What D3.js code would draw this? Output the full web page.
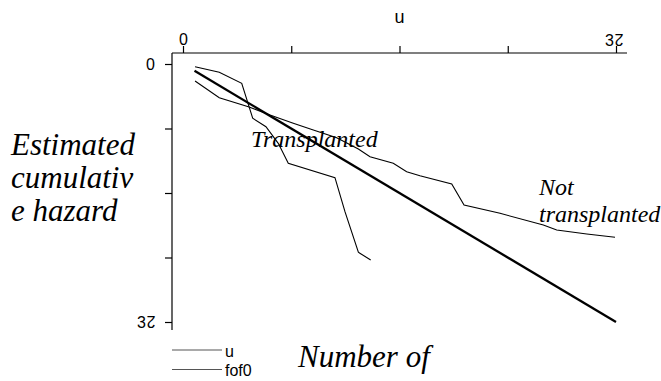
<!DOCTYPE html>
<html><head><meta charset="utf-8">
<script src="https://cdn.jsdelivr.net/npm/d3@7"></script>
<style>body{margin:0;background:#fff}svg{display:block}</style></head>
<body>
<svg id="c" width="661" height="381"></svg>
<script>
// ---- data ----
const xDomain = [0, 32];
const yDomain = [0, 32];
const xTicks = [0, 8, 16, 24, 32];
const yTicks = [0, 8, 16, 24, 32];
const startLabel = "0";
const endLabelA = "3";
const endLabelB = "2";          // drawn upside down, as in the reference
const topTitle = "u";
const legendLabels = ["u", "fof0"];

const refX = [0.85, 32];
const refY = [0.85, 32];

const transX = [0.89, 2.68, 4.34, 5.15, 6.13, 7.04, 7.78, 11.23, 11.97, 12.96, 13.10, 13.87];
const transY = [0.33, 1.03, 2.39, 6.73, 7.78, 9.84, 12.32, 14.10, 18.32, 23.35, 23.50, 24.31];

const notX = [0.89, 2.68, 4.83, 6.43, 8.15, 9.63, 11.36, 12.96, 13.82, 15.54, 16.53, 17.51, 19.86, 20.77, 23.43, 26.63, 27.62, 29.84, 31.93];
const notY = [2.11, 4.18, 5.30, 6.33, 7.35, 8.19, 9.14, 10.54, 11.50, 12.32, 13.36, 13.85, 14.88, 17.49, 18.52, 19.97, 20.59, 21.08, 21.49];

// ---- drawing ----
const svg = d3.select("#c");
const x = d3.scaleLinear().domain(xDomain).range([183, 616]);
const y = d3.scaleLinear().domain(yDomain).range([64, 322]);
const sans = "'Liberation Sans', Arial, sans-serif";
const serif = "'Liberation Serif', 'Times New Roman', serif";

// axis lines
svg.append("line").attr("x1", 172).attr("x2", 627).attr("y1", 53).attr("y2", 53)
  .attr("stroke", "#000").attr("stroke-width", 1.2);
svg.append("line").attr("x1", 172).attr("x2", 172).attr("y1", 53).attr("y2", 330)
  .attr("stroke", "#000").attr("stroke-width", 1.2);

const fmtX = d => d === xDomain[0] ? startLabel : "";
const gx = svg.append("g").attr("transform", "translate(0,53)")
  .call(d3.axisTop(x).tickValues(xTicks).tickSize(7).tickSizeOuter(0).tickPadding(1).tickFormat(fmtX));
const gy = svg.append("g").attr("transform", "translate(172,0)")
  .call(d3.axisLeft(y).tickValues(yTicks).tickSize(7).tickSizeOuter(0).tickPadding(10).tickFormat(fmtX));
[gx, gy].forEach(g => {
  g.select(".domain").remove();
  g.selectAll("line").attr("stroke", "#000").attr("stroke-width", 1.2);
  g.selectAll("text").attr("font-family", sans).attr("font-size", 16).attr("fill", "#000");
});

// end labels "3" + upside-down "2"
function endLabel(cx, base) {
  svg.append("text").attr("x", cx).attr("y", base).attr("text-anchor", "end")
    .attr("font-family", sans).attr("font-size", 16).text(endLabelA);
  svg.append("text").attr("x", cx + 5).attr("y", base).attr("text-anchor", "middle")
    .attr("font-family", sans).attr("font-size", 16)
    .attr("transform", `rotate(180 ${cx + 5} ${base - 5.8})`).text(endLabelB);
}
endLabel(x(xDomain[1]) - 2, 46);
endLabel(146, y(yDomain[1]) + 6);

// top title
svg.append("text").attr("x", x((xDomain[0] + xDomain[1]) / 2)).attr("y", 23)
  .attr("text-anchor", "middle").attr("font-family", sans).attr("font-size", 18).text(topTitle);

// lines
const line = d3.line().x(d => x(d[0])).y(d => y(d[1]));
svg.append("path").datum(refX.map((v, i) => [v, refY[i]])).attr("d", line)
  .attr("fill", "none").attr("stroke", "#000").attr("stroke-width", 2.3);
svg.append("path").datum(transX.map((v, i) => [v, transY[i]])).attr("d", line)
  .attr("fill", "none").attr("stroke", "#000").attr("stroke-width", 1.1);
svg.append("path").datum(notX.map((v, i) => [v, notY[i]])).attr("d", line)
  .attr("fill", "none").attr("stroke", "#000").attr("stroke-width", 1.1);

// in-plot labels
function itext(t, xx, yy, size, len) {
  const e = svg.append("text").attr("x", xx).attr("y", yy).attr("font-family", serif)
    .attr("font-style", "italic").attr("font-size", size).attr("fill", "#000").text(t);
  if (len) e.attr("textLength", len).attr("lengthAdjust", "spacing");
  return e;
}
itext("Transplanted", 251, 147, 24);
itext("Not", 539, 195, 24);
itext("transplanted", 539, 222, 24);

// axis title (left)
itext("Estimated", 11, 155, 31);
itext("cumulativ", 11, 188, 31);
itext("e hazard", 11, 221, 31);

// bottom title
itext("Number of", 298, 367, 31);

// legend
const legY = [350, 369.5];
legY.forEach((ly, i) => {
  svg.append("line").attr("x1", 172).attr("x2", 222).attr("y1", ly).attr("y2", ly)
    .attr("stroke", "#555").attr("stroke-width", 1.2);
  svg.append("text").attr("x", 225).attr("y", ly + 6.5).attr("font-family", sans)
    .attr("font-size", 16).text(legendLabels[i]);
});
</script>
</body></html>
